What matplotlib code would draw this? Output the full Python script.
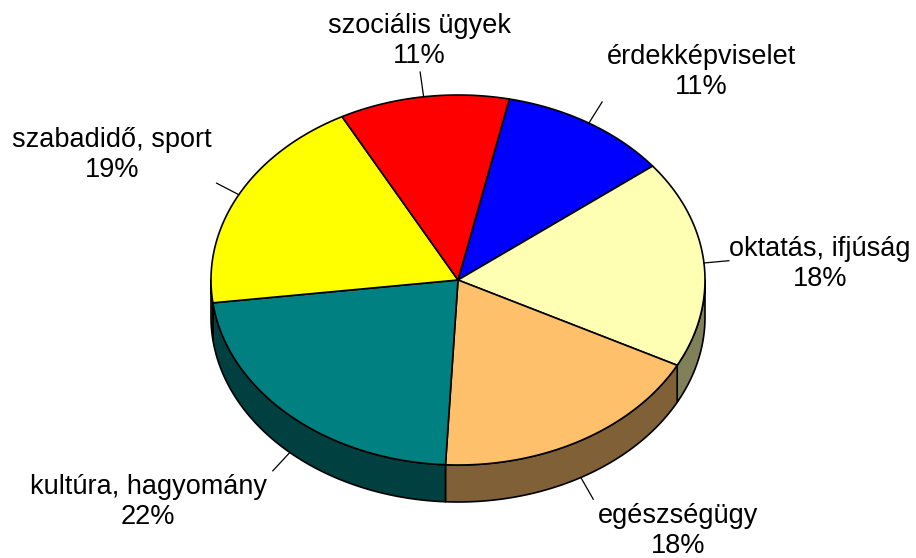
import numpy as np
import matplotlib
matplotlib.use("Agg")
import matplotlib.pyplot as plt
from matplotlib.patches import Polygon
import matplotlib.colors as mcolors

# ---- data ----
categories = ["érdekképviselet", "oktatás, ifjúság", "egészségügy",
              "kultúra, hagyomány", "szabadidő, sport", "szociális ügyek"]
values = [11, 18, 18, 22, 19, 11]
colors = ["#0000FF", "#FFFFB3", "#FFC06B", "#008080", "#FFFF00", "#FF0000"]

# ---- layout (pixels) ----
W, H = 916, 558
cx, cy = 458, 280
rx, ry = 247, 185
depth = 37
start_angle = 78.0
label_pos = [(701, 72), (820, 264), (678, 531), (148, 502), (112, 155), (419, 41)]
leader_len = 25

fig = plt.figure(figsize=(W / 100, H / 100), dpi=100)
ax = fig.add_axes([0, 0, 1, 1])
ax.set_xlim(0, W)
ax.set_ylim(H, 0)
ax.axis("off")

total = sum(values)
angles = []
a = start_angle
for v in values:
    span = v / total * 360.0
    angles.append((a - span, a))
    a -= span


def pt(theta_deg, dz=0.0):
    t = np.radians(theta_deg)
    return cx + rx * np.cos(t), cy - ry * np.sin(t) + dz


def darker(c, f=0.5):
    r, g, b = mcolors.to_rgb(c)
    return (r * f, g * f, b * f)


# side walls (front half: -180..0 degrees, with shifts)
for (a0, a1), col in zip(angles, colors):
    for shift in (0, 360, -360):
        lo = max(a0 + shift, -180)
        hi = min(a1 + shift, 0)
        if hi - lo > 0.01:
            th = np.linspace(lo, hi, 80)
            top = [pt(t) for t in th]
            bot = [pt(t, depth) for t in th[::-1]]
            ax.add_patch(Polygon(top + bot, closed=True, facecolor=darker(col),
                                 edgecolor="black", linewidth=1.2, joinstyle="round"))

# top faces
for (a0, a1), col in zip(angles, colors):
    th = np.linspace(a1, a0, 200)
    verts = [(cx, cy)] + [pt(t) for t in th]
    ax.add_patch(Polygon(verts, closed=True, facecolor=col,
                         edgecolor="black", linewidth=1.2, joinstyle="round"))

# labels and leader lines
for (a0, a1), name, v, (lx, ly) in zip(angles, categories, values, label_pos):
    mid = (a0 + a1) / 2.0
    m = ((mid + 180) % 360) - 180
    dz = depth if -180 < m < 0 else 0
    x0, y0 = pt(mid, dz)
    t = np.radians(mid)
    d = np.array([np.cos(t), -np.sin(t)])
    x1, y1 = x0 + leader_len * d[0], y0 + leader_len * d[1]
    ax.plot([x0, x1], [y0, y1], color="black", linewidth=0.9)
    ax.text(lx, ly, f"{name}\n{v}%", ha="center", va="center", multialignment="center",
            fontsize=19.5, family=["Liberation Sans", "DejaVu Sans"], color="black",
            linespacing=1.2)

fig.savefig("out.png", dpi=100, facecolor="white")
